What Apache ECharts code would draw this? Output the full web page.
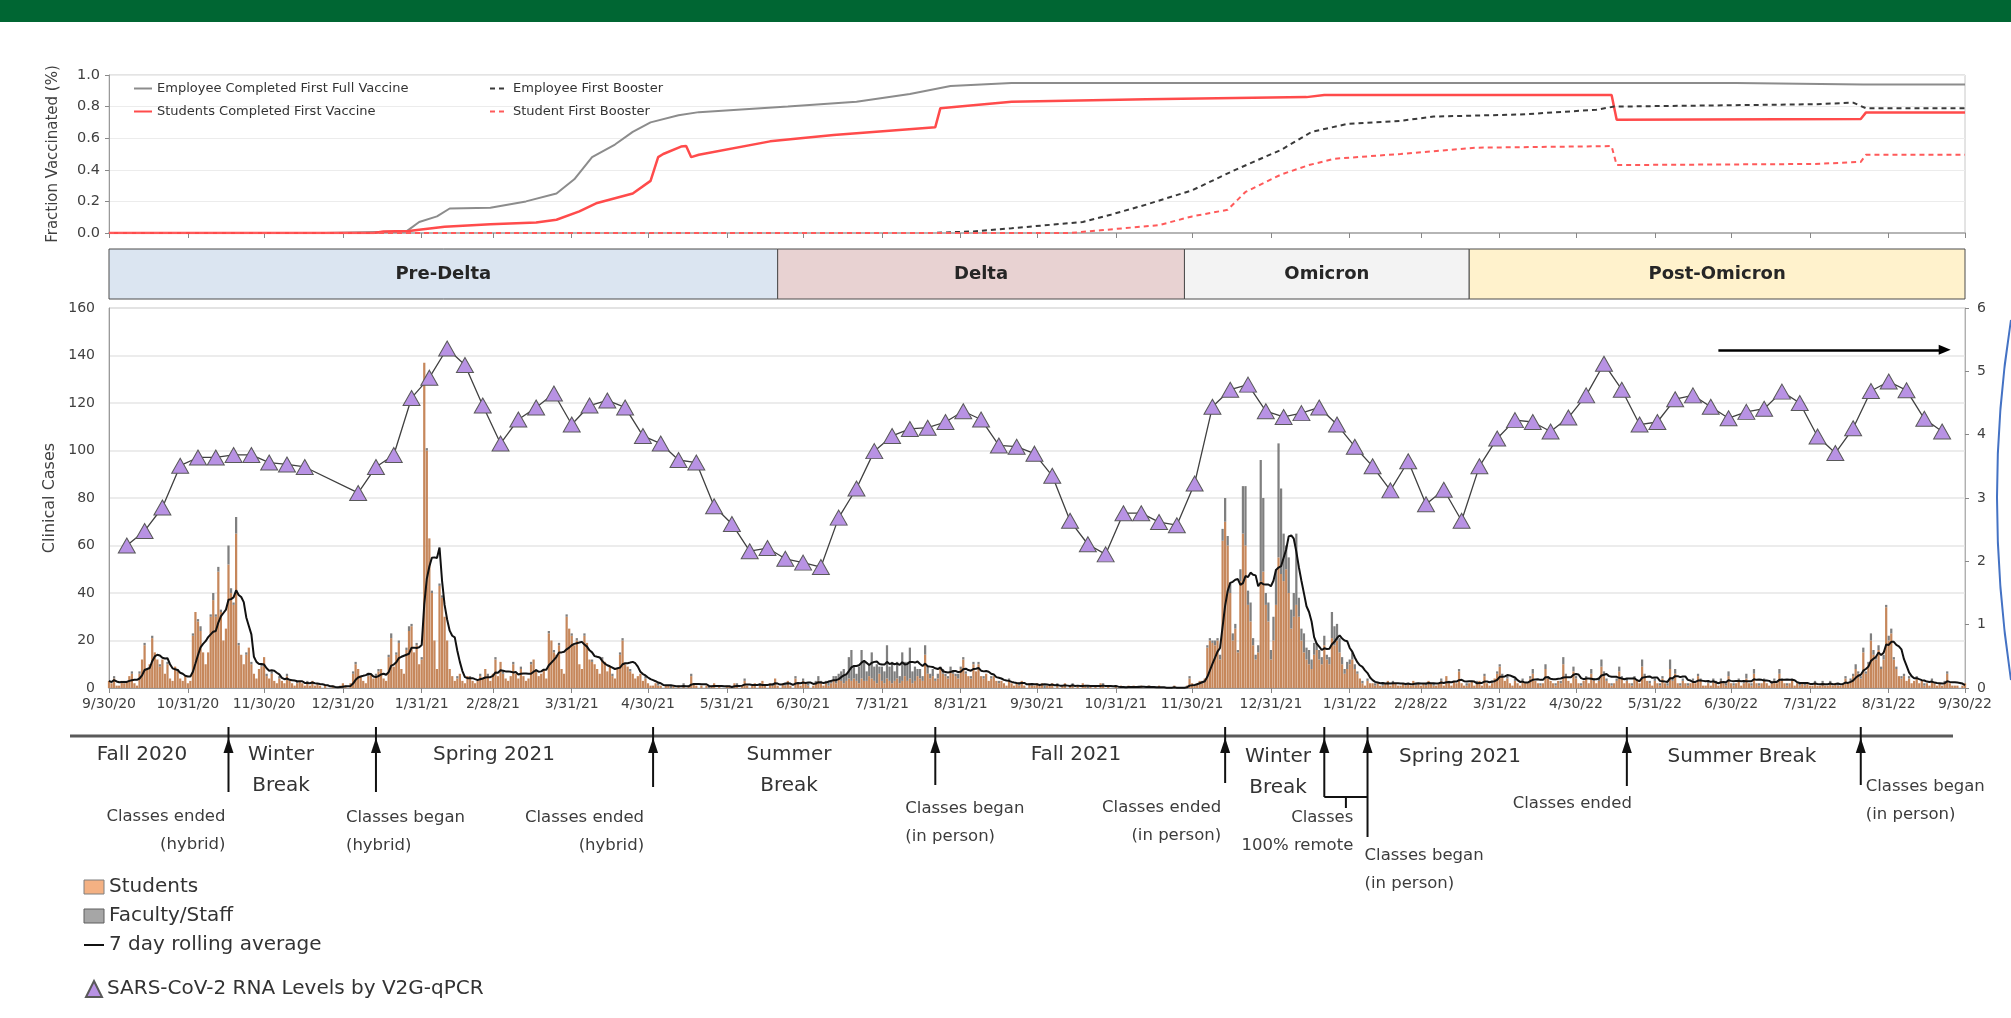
<!DOCTYPE html>
<html>
<head>
<meta charset="utf-8">
<script src="https://cdn.jsdelivr.net/npm/echarts@6/dist/echarts.min.js"></script>
<style>
html, body { margin: 0; padding: 0; background: #fff; }
#main { width: 2011px; height: 1018px; }
</style>
</head>
<body>
<div id="main"></div>
<script>
// month-end tick labels of the shared date axis
var tickLabels = ['9/30/20', '10/31/20', '11/30/20', '12/31/20', '1/31/21', '2/28/21', '3/31/21', '4/30/21',
    '5/31/21', '6/30/21', '7/31/21', '8/31/21', '9/30/21', '10/31/21', '11/30/21', '12/31/21', '1/31/22',
    '2/28/22', '3/31/22', '4/30/22', '5/31/22', '6/30/22', '7/31/22', '8/31/22', '9/30/22'];

// daily clinical cases, students (9/30/20 .. 9/30/22)
var studentCases = [
    3,
    2,4,1,1,3,2,3,5,6,2, 1,6,12,18,8,10,21,15,12,9, 12,6,10,4,3,9,7,4,3,5,2,
    3,22,32,28,24,15,10,15,30,37, 30,49,32,20,25,52,40,35,65,18, 14,10,14,17,10,6,4,8,9,13,
    5,4,6,3,2,4,3,2,5,3, 2,1,2,3,2,1,2,1,3,1, 2,1,0,1,0,0,1,0,0,1,2,
    1,0,2,6,10,8,5,3,2,5, 6,4,5,7,8,4,3,13,21,9, 14,19,8,6,16,24,26,15,18,10,12,
    137,100,63,40,20,8,43,38,30,20, 8,5,3,4,6,3,2,5,4,3, 2,3,5,4,8,5,3,6,
    12,5,11,6,4,3,5,10,6,4, 8,5,3,4,10,12,7,5,6,8, 4,23,20,15,14,18,8,6,30,25,22,
    18,20,10,8,22,19,12,11,10,8, 6,12,11,7,9,5,4,8,14,20, 10,9,7,6,4,5,6,3,4,2,
    1,1,2,1,1,0,1,1,0,1, 0,1,0,1,0,1,5,2,1,0, 1,0,1,0,1,2,0,1,0,0,1,
    1,0,2,1,0,1,3,1,0,1, 2,0,1,3,1,0,2,1,4,1, 0,2,1,3,1,0,4,2,1,3,
    2,1,0,1,2,3,2,1,2,1, 2,3,2,4,3,2,3,4,3,4, 3,2,4,3,3,5,4,3,2,6,3,
    2,4,3,2,3,4,2,3,5,3, 4,2,3,5,4,3,14,6,4,5, 3,4,8,6,5,4,7,6,5,4,8,
    12,6,5,4,10,7,10,5,4,6, 3,4,5,3,2,3,2,1,3,2, 1,2,1,3,1,0,2,1,1,2,
    1,2,0,1,1,2,0,1,0,1, 2,0,1,1,0,1,0,2,1,0, 1,0,1,0,2,1,0,1,0,0,1,
    0,1,0,0,1,0,1,0,0,1, 0,0,1,0,0,0,1,0,0,0, 0,0,1,0,0,0,0,1,4,2,
    1,2,3,2,4,17,20,19,18,20, 12,62,70,60,40,20,25,15,45,65, 60,35,28,18,12,15,45,49,35,28,12,
    20,35,55,48,45,50,40,25,30,35, 30,20,15,12,10,8,14,16,12,10, 18,12,10,21,18,20,15,10,6,8,10,
    12,8,6,4,2,1,3,2,2,1, 2,1,1,2,3,1,2,2,1,1, 2,1,2,1,3,1,2,1,
    2,1,3,2,1,1,2,3,1,5, 2,1,3,2,7,2,1,1,2,3, 1,2,3,1,5,2,1,2,4,6,9,
    5,3,4,2,1,3,2,1,3,2, 2,4,6,3,2,1,2,8,4,3, 2,1,3,2,10,5,3,2,7,4,
    2,1,3,4,2,6,3,2,3,9, 5,3,2,1,2,3,7,4,2,3, 2,1,4,3,2,9,5,3,2,1,3,
    2,1,4,2,1,8,3,6,2,1, 3,2,1,2,3,2,5,3,1,1, 2,1,3,2,1,3,2,1,5,2,
    1,2,3,1,2,4,2,1,6,2, 1,2,3,2,1,2,3,2,6,3, 2,1,2,3,1,2,1,2,1,2,1,
    1,2,1,1,2,1,1,2,1,2, 1,1,2,4,2,3,5,8,6,4, 15,6,10,20,14,12,16,8,12,34,20,
    23,12,8,5,4,5,3,4,2,3, 4,2,3,1,2,1,3,2,1,2, 1,2,6,2,1,1,1,0,1,2
];

// daily clinical cases, faculty/staff
var staffCases = [
    0,
    0,1,0,0,0,1,0,0,1,0, 0,1,0,1,0,0,1,0,0,1, 0,0,1,0,0,0,1,0,0,0,0,
    0,1,0,1,2,0,0,0,1,3, 1,2,1,0,0,8,2,1,7,1, 0,0,1,0,1,0,0,0,1,0,
    1,0,1,0,0,1,0,0,1,0, 0,0,1,0,0,0,1,0,0,0, 0,0,0,0,0,0,0,0,0,0,0,
    0,0,0,1,1,0,0,0,0,1, 0,0,1,1,0,0,0,1,2,0, 1,1,0,0,1,2,1,0,1,0,1,
    0,1,0,1,0,0,1,1,0,0, 0,0,0,1,0,0,0,0,1,0, 0,0,1,0,0,1,0,0,
    1,0,0,1,0,0,0,1,0,0, 1,0,0,0,1,0,1,0,0,0, 0,1,0,1,0,1,0,0,1,0,1,
    0,1,0,0,1,0,0,1,0,0, 0,1,0,0,0,1,0,0,1,1, 0,0,1,0,0,0,0,0,1,0,
    0,0,0,1,0,0,0,0,1,0, 0,0,0,1,0,0,1,0,0,0, 0,0,0,1,0,0,0,0,0,0,0,
    0,0,0,1,0,0,1,0,0,0, 0,0,1,0,0,0,0,1,0,0, 0,0,1,0,0,0,1,0,0,1,
    0,1,0,0,1,2,1,0,1,2, 1,2,3,2,4,6,3,9,13,5, 3,7,12,8,4,5,11,6,8,3,6,
    5,14,6,9,4,7,3,12,6,8, 13,5,6,3,4,2,4,3,2,3, 1,2,1,2,1,1,2,1,1,2,1,
    1,1,0,1,1,0,1,0,1,0, 0,1,0,0,1,0,0,0,1,0, 0,0,1,0,0,0,0,1,0,0,
    0,0,1,0,0,0,0,1,0,0, 0,0,0,1,0,0,0,0,0,1, 0,0,0,0,0,1,0,0,0,0,0,
    0,0,0,0,0,0,0,0,1,0, 0,0,0,0,0,0,0,0,0,0, 0,0,0,0,0,0,0,0,1,0,
    0,0,0,1,0,1,1,1,2,1, 2,5,10,4,4,3,2,1,5,20, 25,6,8,3,2,3,51,31,5,8,4,
    10,15,48,36,20,10,15,8,10,30, 8,5,8,5,6,4,5,3,4,3, 4,2,3,11,8,7,6,3,2,3,2,
    3,2,1,0,1,0,1,0,0,1, 0,0,1,0,0,0,1,0,0,0, 0,1,0,0,0,1,0,0,
    0,1,0,0,1,0,0,1,0,0, 1,0,0,0,1,0,0,1,0,0, 0,1,0,0,1,0,0,1,0,1,1,
    1,0,1,0,0,1,0,0,1,0, 0,1,2,0,0,1,0,2,1,0, 0,1,0,1,3,1,0,0,2,1,
    0,1,0,1,0,2,1,0,1,3, 2,1,0,1,0,1,2,1,0,1, 0,1,1,0,0,3,1,0,1,0,1,
    0,1,1,0,1,4,1,2,0,1, 1,0,1,0,1,0,1,1,0,0, 1,0,1,1,0,1,0,1,2,0,
    1,0,1,0,1,2,0,1,2,0, 1,0,1,0,0,1,1,0,2,1, 0,1,0,1,0,0,1,0,1,0,0,
    0,1,0,0,1,0,0,1,0,0, 1,0,0,1,0,1,1,2,1,1, 2,1,1,3,2,1,2,1,2,1,2,
    2,1,1,0,1,1,0,1,0,0, 1,0,0,1,0,0,1,0,0,0, 0,1,1,0,0,0,0,0,0,0
];

// weekly wastewater SARS-CoV-2 RNA levels (right axis)
var rnaDates = ['10/7/20', '10/14/20', '10/21/20', '10/28/20', '11/4/20', '11/11/20', '11/18/20', '11/25/20',
    '12/2/20', '12/9/20', '12/16/20',
    '1/6/21', '1/13/21', '1/20/21', '1/27/21', '2/3/21', '2/10/21', '2/17/21', '2/24/21', '3/3/21', '3/10/21',
    '3/17/21', '3/24/21', '3/31/21', '4/7/21', '4/14/21', '4/21/21', '4/28/21', '5/5/21', '5/12/21', '5/19/21',
    '5/26/21', '6/2/21', '6/9/21', '6/16/21', '6/23/21', '6/30/21', '7/7/21', '7/14/21', '7/21/21', '7/28/21',
    '8/4/21', '8/11/21', '8/18/21', '8/25/21', '9/1/21', '9/8/21', '9/15/21', '9/22/21', '9/29/21', '10/6/21',
    '10/13/21', '10/20/21', '10/27/21', '11/3/21', '11/10/21', '11/17/21', '11/24/21', '12/1/21', '12/8/21',
    '12/15/21', '12/22/21', '12/29/21',
    '1/5/22', '1/12/22', '1/19/22', '1/26/22', '2/2/22', '2/9/22', '2/16/22', '2/23/22', '3/2/22', '3/9/22',
    '3/16/22', '3/23/22', '3/30/22', '4/6/22', '4/13/22', '4/20/22', '4/27/22', '5/4/22', '5/11/22', '5/18/22',
    '5/25/22', '6/1/22', '6/8/22', '6/15/22', '6/22/22', '6/29/22', '7/6/22', '7/13/22', '7/20/22', '7/27/22',
    '8/3/22', '8/10/22', '8/17/22', '8/24/22', '8/31/22', '9/7/22', '9/14/22', '9/21/22'];
var rnaLevels = [2.25, 2.48, 2.85, 3.51, 3.64, 3.64, 3.68, 3.68, 3.56, 3.53, 3.49,
    3.08, 3.49, 3.68, 4.58, 4.90, 5.36, 5.10, 4.46, 3.86, 4.24, 4.43, 4.65, 4.16, 4.46, 4.54, 4.43, 3.98, 3.86,
    3.60, 3.56,
    2.87, 2.59, 2.16, 2.21, 2.04, 1.98, 1.91, 2.69, 3.15, 3.74, 3.98, 4.09, 4.11, 4.20, 4.37, 4.24, 3.83, 3.81,
    3.70, 3.35, 2.64, 2.27, 2.11, 2.76, 2.76, 2.62, 2.57, 3.23, 4.44, 4.71, 4.79, 4.37, 4.28, 4.34, 4.43, 4.16,
    3.81, 3.50, 3.12, 3.58, 2.90, 3.13, 2.64, 3.50, 3.94, 4.23, 4.20, 4.05, 4.27, 4.62, 5.12, 4.71, 4.16, 4.20,
    4.56, 4.62, 4.44, 4.26, 4.36, 4.41, 4.68, 4.50, 3.97, 3.71, 4.10, 4.69, 4.84, 4.70, 4.25, 4.05];

// vaccination fractions (breakpoints of each curve)
var empFullDates = ['9/30/20', '12/24/20', '1/25/21', '1/30/21', '2/6/21', '2/11/21', '2/27/21', '3/13/21', '3/25/21',
    '4/1/21', '4/8/21', '4/17/21', '4/24/21', '5/1/21', '5/12/21', '5/20/21', '6/24/21', '7/21/21', '8/11/21',
    '8/27/21', '9/20/21', '1/3/22', '7/2/22', '8/21/22', '9/30/22'];
var empFullVals = [0, 0, 0.01, 0.07, 0.105, 0.155, 0.16, 0.20, 0.25, 0.34, 0.48, 0.56, 0.64, 0.70, 0.745, 0.765,
    0.80, 0.83, 0.88, 0.93, 0.95, 0.95, 0.95, 0.94, 0.94];
var stuFullDates = ['9/30/20', '1/12/21', '1/16/21', '1/26/21', '1/30/21', '2/9/21', '2/27/21', '3/17/21', '3/25/21',
    '4/3/21', '4/10/21', '4/24/21', '5/1/21', '5/4/21', '5/6/21', '5/13/21', '5/15/21', '5/17/21', '5/20/21',
    '6/17/21', '7/12/21', '8/21/21', '8/23/21', '9/20/21', '11/12/21', '1/14/22', '1/21/22', '5/14/22', '5/16/22',
    '8/20/22', '8/22/22', '9/30/22'];
var stuFullVals = [0, 0, 0.01, 0.012, 0.02, 0.04, 0.055, 0.067, 0.084, 0.137, 0.19, 0.25, 0.33, 0.48, 0.50, 0.547,
    0.55, 0.48, 0.495, 0.58, 0.62, 0.67, 0.79, 0.83, 0.846, 0.86, 0.874, 0.874, 0.716, 0.722, 0.762, 0.762];
var empBoostDates = ['9/30/20', '8/19/21', '9/5/21', '9/20/21', '10/18/21', '10/29/21', '11/12/21', '11/30/21',
    '12/17/21', '1/4/22', '1/16/22', '1/30/22', '2/20/22', '3/5/22', '4/8/22', '5/8/22', '5/15/22', '8/2/22',
    '8/17/22', '8/22/22', '9/30/22'];
var empBoostVals = [0, 0, 0.01, 0.03, 0.07, 0.116, 0.18, 0.27, 0.40, 0.526, 0.64, 0.69, 0.71, 0.737, 0.75, 0.78,
    0.80, 0.815, 0.825, 0.79, 0.79];
var stuBoostDates = ['9/30/20', '10/13/21', '10/25/21', '11/17/21', '11/30/21', '12/14/21', '12/21/21', '1/4/22',
    '1/15/22', '1/25/22', '2/20/22', '3/22/22', '5/14/22', '5/16/22', '8/2/22', '8/20/22', '8/22/22', '9/30/22'];
var stuBoostVals = [0, 0, 0.017, 0.05, 0.105, 0.147, 0.26, 0.37, 0.43, 0.47, 0.50, 0.54, 0.55, 0.43, 0.437, 0.45,
    0.495, 0.495];

// pandemic periods
var periodNames = ['Pre-Delta', 'Delta', 'Omicron', 'Post-Omicron'];
var periodStart = ['9/30/20', '6/20/21', '11/27/21', '3/19/22'];
var periodEnd = ['6/20/21', '11/27/21', '3/19/22', '9/30/22'];
var periodColors = ['#dbe5f1', '#e8d2d2', '#f3f3f3', '#fff2cc'];

// academic calendar events (arrows below the axis)
var classEventDates = ['11/16/20', '1/13/21', '5/2/21', '8/21/21', '12/13/21', '1/21/22', '2/7/22', '5/20/22', '8/20/22'];

var FONT = 'DejaVu Sans';

// date categories, one per day
var days = [];
var dayIndex = {};
var t0 = Date.UTC(2020, 8, 30);
for (var i = 0; i < 731; i++) {
    var d = new Date(t0 + i * 86400000);
    var s = (d.getUTCMonth() + 1) + '/' + d.getUTCDate() + '/' + String(d.getUTCFullYear()).slice(2);
    days.push(s);
    dayIndex[s] = i;
}
var isTick = function (idx, val) { return tickLabels.indexOf(days[idx]) >= 0; };

function pairs(dates, vals) {
    return dates.map(function (d, k) { return [dayIndex[d], vals[k]]; });
}

// 7 day rolling average of all cases
var totalCases = studentCases.map(function (v, k) { return v + (staffCases[k] || 0); });
var rolling = totalCases.map(function (v, k) {
    var a = Math.max(0, k - 6), sum = 0;
    for (var j = a; j <= k; j++) sum += totalCases[j];
    return +(sum / (k - a + 1)).toFixed(2);
});

var GL = 109, GW = 1856;
var noDot = { opacity: 0 };   // hide the legend circle on line entries

var option = {
    animation: false,
    backgroundColor: '#ffffff',
    textStyle: { fontFamily: FONT },
    grid: [
        { left: GL, top: 75, width: GW, height: 158, show: true, borderColor: '#c8c8c8', borderWidth: 1 },
        { left: GL, top: 249, width: GW, height: 50 },
        { left: GL, top: 308, width: GW, height: 380, show: true, borderColor: '#b8b8b8', borderWidth: 1 }
    ],
    xAxis: [
        {
            type: 'category', gridIndex: 0, data: days, boundaryGap: false,
            axisLine: { lineStyle: { color: '#b5b5b5', width: 2 } },
            axisTick: { interval: isTick, length: 5, lineStyle: { color: '#888' } },
            axisLabel: { show: false }, splitLine: { show: false }
        },
        {
            type: 'category', gridIndex: 1, data: days, boundaryGap: false, show: false
        },
        {
            type: 'category', gridIndex: 2, data: days, boundaryGap: false,
            axisLine: { lineStyle: { color: '#9a9a9a', width: 1 } },
            axisTick: { interval: isTick, length: 5, lineStyle: { color: '#888' } },
            axisLabel: { interval: isTick, fontSize: 14, color: '#404040', margin: 9, fontFamily: FONT },
            splitLine: { show: false }
        }
    ],
    yAxis: [
        {
            type: 'value', gridIndex: 0, min: 0, max: 1, interval: 0.2,
            name: 'Fraction Vaccinated (%)', nameLocation: 'middle', nameGap: 48,
            nameTextStyle: { fontSize: 15, color: '#404040', fontFamily: FONT },
            axisLine: { show: true, lineStyle: { color: '#9a9a9a' } },
            axisTick: { show: true, length: 4, lineStyle: { color: '#888' } },
            axisLabel: { fontSize: 14.5, color: '#404040', margin: 9, formatter: function (v) { return v.toFixed(1); } },
            splitLine: { lineStyle: { color: '#ececec' } }
        },
        { type: 'value', gridIndex: 1, min: 0, max: 1, show: false },
        {
            type: 'value', gridIndex: 2, min: 0, max: 160, interval: 20,
            name: 'Clinical Cases', nameLocation: 'middle', nameGap: 50,
            nameTextStyle: { fontSize: 16, color: '#404040', fontFamily: FONT },
            axisLine: { show: true, lineStyle: { color: '#9a9a9a' } },
            axisTick: { show: false },
            axisLabel: { fontSize: 14, color: '#404040', margin: 14 },
            splitLine: { lineStyle: { color: '#e6e6e6', width: 1.5 } }
        },
        {
            type: 'value', gridIndex: 2, min: 0, max: 6, interval: 1, position: 'right',
            axisLine: { show: true, lineStyle: { color: '#b0b0b0' } },
            axisTick: { show: true, length: 4, lineStyle: { color: '#888' } },
            axisLabel: { fontSize: 14, color: '#404040', margin: 12 },
            splitLine: { show: false }
        }
    ],
    legend: [
        {
            data: [
                { name: 'Employee Completed First Full Vaccine', itemStyle: noDot },
                { name: 'Students Completed First Vaccine', itemStyle: noDot }
            ],
            left: 133, top: 82, orient: 'vertical', itemGap: 10, itemWidth: 18, itemHeight: 10, padding: 0,
            selectedMode: false, textStyle: { fontSize: 13, color: '#333', fontFamily: FONT }
        },
        {
            data: [
                { name: 'Employee First Booster', itemStyle: noDot },
                { name: 'Student First Booster', itemStyle: noDot }
            ],
            left: 489, top: 82, orient: 'vertical', itemGap: 10, itemWidth: 18, itemHeight: 10, padding: 0,
            selectedMode: false, textStyle: { fontSize: 13, color: '#333', fontFamily: FONT }
        },
        {
            data: [
                { name: 'Students', icon: 'rect', itemStyle: { color: '#f4b183', borderColor: '#7f7f7f', borderWidth: 1 } },
                { name: 'Faculty/Staff', icon: 'rect', itemStyle: { color: '#a6a6a6', borderColor: '#5f5f5f', borderWidth: 1 } },
                { name: '7 day rolling average', itemStyle: noDot }
            ],
            left: 83, top: 877, orient: 'vertical', itemGap: 9, itemWidth: 20, itemHeight: 14, padding: 0,
            selectedMode: false, textStyle: { fontSize: 20, color: '#333', fontFamily: FONT }
        },
        {
            data: [{ name: 'SARS-CoV-2 RNA Levels by V2G-qPCR', icon: 'triangle' }],
            left: 85, top: 979, orient: 'vertical', itemWidth: 16, itemHeight: 16, padding: 0,
            selectedMode: false, textStyle: { fontSize: 20, color: '#333', fontFamily: FONT }
        }
    ],
    series: [
        {
            name: 'Employee Completed First Full Vaccine', type: 'line', xAxisIndex: 0, yAxisIndex: 0,
            symbol: 'none', data: pairs(empFullDates, empFullVals),
            lineStyle: { color: '#8c8c8c', width: 2 }, itemStyle: { color: '#8c8c8c' }
        },
        {
            name: 'Students Completed First Vaccine', type: 'line', xAxisIndex: 0, yAxisIndex: 0,
            symbol: 'none', data: pairs(stuFullDates, stuFullVals),
            lineStyle: { color: '#ff4b4b', width: 2.5 }, itemStyle: { color: '#ff4b4b' }
        },
        {
            name: 'Employee First Booster', type: 'line', xAxisIndex: 0, yAxisIndex: 0,
            symbol: 'none', data: pairs(empBoostDates, empBoostVals),
            lineStyle: { color: '#3a3a3a', width: 2, type: [5, 4] }, itemStyle: { color: '#3a3a3a' }
        },
        {
            name: 'Student First Booster', type: 'line', xAxisIndex: 0, yAxisIndex: 0,
            symbol: 'none', data: pairs(stuBoostDates, stuBoostVals),
            lineStyle: { color: '#ff5a5a', width: 2, type: [5, 4] }, itemStyle: { color: '#ff5a5a' }
        },
        {
            name: 'periods', type: 'line', xAxisIndex: 1, yAxisIndex: 1, symbol: 'none',
            data: [[0, 0]], lineStyle: { opacity: 0 }, silent: true,
            markArea: {
                silent: true,
                label: { show: true, position: 'inside', fontSize: 18, fontWeight: 'bold', color: '#262626', fontFamily: FONT },
                itemStyle: { borderColor: '#4d4d4d', borderWidth: 1 },
                data: periodNames.map(function (n, k) {
                    return [
                        { name: n, xAxis: dayIndex[periodStart[k]], itemStyle: { color: periodColors[k], borderColor: '#4d4d4d', borderWidth: 1 } },
                        { xAxis: dayIndex[periodEnd[k]] }
                    ];
                })
            }
        },
        {
            name: 'Students', type: 'bar', xAxisIndex: 2, yAxisIndex: 2, stack: 'cases',
            data: studentCases, barCategoryGap: '12%', itemStyle: { color: '#c6875b' }
        },
        {
            name: 'Faculty/Staff', type: 'bar', xAxisIndex: 2, yAxisIndex: 2, stack: 'cases',
            data: staffCases, barCategoryGap: '12%', itemStyle: { color: '#7f7f7f' }
        },
        {
            name: '7 day rolling average', type: 'line', xAxisIndex: 2, yAxisIndex: 2, symbol: 'none',
            data: rolling, z: 4, lineStyle: { color: '#111', width: 2 }, itemStyle: { color: '#111' }
        },
        {
            name: 'SARS-CoV-2 RNA Levels by V2G-qPCR', type: 'line', xAxisIndex: 2, yAxisIndex: 3,
            data: pairs(rnaDates, rnaLevels), z: 6,
            symbol: 'triangle', symbolSize: [17, 15], showSymbol: true, showAllSymbol: true,
            lineStyle: { color: '#404040', width: 1.3 },
            itemStyle: { color: '#b892e4', borderColor: '#595959', borderWidth: 1 },
            markLine: {
                silent: true, symbol: ['none', 'triangle'], symbolSize: [10, 12],
                label: { show: false },
                lineStyle: { color: '#000', width: 2.5, type: 'solid' },
                data: [[{ coord: [dayIndex['6/25/22'], 5.34] }, { coord: [dayIndex['9/22/22'], 5.34] }]]
            }
        }
    ]
};

var chart = echarts.init(document.getElementById('main'));
chart.setOption(option);

// timeline under the chart
var seasonLabels = [
    ['Fall 2020', 142, 755], ['Winter', 281, 755], ['Break', 281, 786], ['Spring 2021', 494, 755],
    ['Summer', 789, 755], ['Break', 789, 786], ['Fall 2021', 1076, 755], ['Winter', 1278, 757],
    ['Break', 1278, 788], ['Spring 2021', 1460, 757], ['Summer Break', 1742, 757]
];
var arrowBottoms = [792, 792, 787, 785, 783, 797, 837, 786, 785];
// [event, text lines, x offset from arrow, align, first line y]
var notes = [
    [0, ['Classes ended', '(hybrid)'], -3, 'right', 817],
    [1, ['Classes began', '(hybrid)'], -30, 'left', 818],
    [2, ['Classes ended', '(hybrid)'], -9, 'right', 818],
    [3, ['Classes began', '(in person)'], -30, 'left', 809],
    [4, ['Classes ended', '(in person)'], -4, 'right', 808],
    [5, ['Classes', '100% remote'], 29, 'right', 818],
    [6, ['Classes began', '(in person)'], -3, 'left', 856],
    [7, ['Classes ended'], 5, 'right', 804],
    [8, ['Classes began', '(in person)'], 5, 'left', 787]
];

var ex = classEventDates.map(function (d) {
    return chart.convertToPixel({ xAxisIndex: 2 }, dayIndex[d]);
});

var g = [];
g.push({ type: 'rect', shape: { x: 0, y: 0, width: 2011, height: 22 }, style: { fill: '#006633' } });
g.push({ type: 'line', shape: { x1: 70, y1: 736, x2: 1953, y2: 736 }, style: { stroke: '#5a5a5a', lineWidth: 3 } });
ex.forEach(function (x, k) {
    g.push({ type: 'line', shape: { x1: x, y1: 727, x2: x, y2: arrowBottoms[k] }, style: { stroke: '#111', lineWidth: 2 } });
    g.push({ type: 'polygon', shape: { points: [[x, 738], [x - 5, 753], [x + 5, 753]] }, style: { fill: '#111' } });
});
// bracket joining the remote period
var xm = (ex[5] + ex[6]) / 2;
g.push({ type: 'line', shape: { x1: ex[5], y1: 797, x2: ex[6], y2: 797 }, style: { stroke: '#111', lineWidth: 2 } });
g.push({ type: 'line', shape: { x1: xm, y1: 797, x2: xm, y2: 808 }, style: { stroke: '#111', lineWidth: 2 } });

seasonLabels.forEach(function (s) {
    g.push({ type: 'text', style: { text: s[0], x: s[1], y: s[2], fill: '#333', font: '20px "' + FONT + '"', align: 'center', verticalAlign: 'middle' } });
});
notes.forEach(function (n) {
    n[1].forEach(function (line, k) {
        g.push({ type: 'text', style: { text: line, x: ex[n[0]] + n[2], y: n[4] + k * 28, fill: '#3c3c3c', font: '16.5px "' + FONT + '"', align: n[3], verticalAlign: 'middle' } });
    });
});
// blue arc at the right edge
g.push({ type: 'bezierCurve', shape: { x1: 2011, y1: 320, cpx1: 1983, cpy1: 495, x2: 2011, y2: 680 }, style: { stroke: '#4472c4', lineWidth: 2, fill: 'none' } });

chart.setOption({ graphic: g });
</script>
</body>
</html>
